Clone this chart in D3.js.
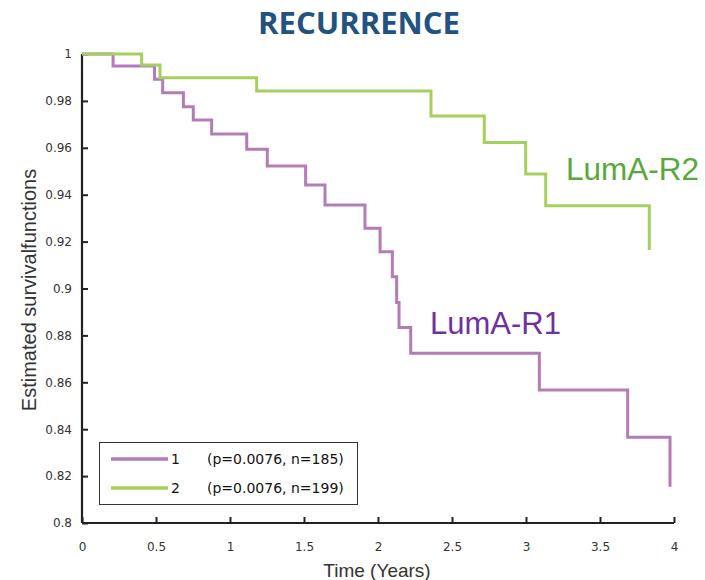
<!DOCTYPE html>
<html>
<head>
<meta charset="utf-8">
<script src="https://cdn.jsdelivr.net/npm/d3@7"></script>
<style>
  body { margin: 0; background: #fff; }
  svg text { font-family: "Liberation Sans", Arial, sans-serif; }
</style>
</head>
<body>
<div id="chart"></div>
<script>
// Kaplan-Meier step points: [time, survival]
const lumA1 = [[0, 1], [0.21, 0.9949], [0.49, 0.9892], [0.545, 0.9835], [0.685, 0.9775],
  [0.752, 0.9719], [0.876, 0.9659], [1.113, 0.9594], [1.252, 0.9522], [1.511, 0.9441],
  [1.642, 0.9356], [1.912, 0.9257], [2.014, 0.9157], [2.097, 0.905], [2.126, 0.894],
  [2.142, 0.8834], [2.221, 0.8724], [3.09, 0.8567], [3.687, 0.8366], [3.973, 0.8155]];
const lumA2 = [[0, 1], [0.403, 0.9953], [0.527, 0.9899], [1.18, 0.9842], [2.358, 0.9736],
  [2.718, 0.9623], [2.998, 0.9488], [3.133, 0.9353], [3.833, 0.9164]];
const xTicks = [0, 0.5, 1, 1.5, 2, 2.5, 3, 3.5, 4];
const yTicks = [0.8, 0.82, 0.84, 0.86, 0.88, 0.9, 0.92, 0.94, 0.96, 0.98, 1];
const legendNames = ["1", "2"];
const legendStats = ["(p=0.0076, n=185)", "(p=0.0076, n=199)"];
const curveLabels = ["LumA-R1", "LumA-R2"];

const width = 705, height = 580;
const margin = {left: 82, right: 31, top: 54, bottom: 57};
const purple = "#b37cb9", green = "#a6d05e";
const tickFont = "'DejaVu Sans', sans-serif";

const svg = d3.select("#chart").append("svg")
  .attr("width", width)
  .attr("height", height);

const x = d3.scaleLinear().domain([0, 4]).range([margin.left, width - margin.right]);
const y = d3.scaleLinear().domain([0.8, 1]).range([height - margin.bottom, margin.top]);

// title
svg.append("text")
  .attr("x", 359).attr("y", 34)
  .attr("text-anchor", "middle")
  .style("font-family", "'Open Sans', sans-serif")
  .attr("font-size", "30px")
  .attr("font-weight", "bold")
  .attr("fill", "#22527f")
  .attr("textLength", 202)
  .attr("lengthAdjust", "spacingAndGlyphs")
  .text("RECURRENCE");

// axes (ticks point inward)
const xAxis = d3.axisBottom(x).tickValues(xTicks).tickSize(-6).tickPadding(19)
  .tickFormat(d3.format("~g"));
const yAxis = d3.axisLeft(y).tickValues(yTicks).tickSize(-6).tickPadding(10)
  .tickFormat(d3.format("~g"));

const gx = svg.append("g")
  .attr("transform", "translate(0," + y(0.8) + ")")
  .call(xAxis);
const gy = svg.append("g")
  .attr("transform", "translate(" + x(0) + ",0)")
  .call(yAxis);

[gx, gy].forEach(g => {
  g.select(".domain").attr("stroke", "#222").attr("stroke-width", 2.2);
  g.selectAll(".tick line").attr("stroke", "#222").attr("stroke-width", 2);
  g.selectAll(".tick text")
    .style("font-family", tickFont)
    .attr("font-size", "12px")
    .attr("fill", "#333");
});
gy.select(".domain").attr("d", "M0," + y(0.8) + "V" + y(1));
gx.select(".domain").attr("d", "M" + x(0) + ",0H" + x(4));

// step curves
const step = d3.line().x(d => x(d[0])).y(d => y(d[1])).curve(d3.curveStepAfter);
[[lumA1, purple], [lumA2, green]].forEach(([data, col]) => {
  svg.append("path")
    .datum(data)
    .attr("d", step)
    .attr("fill", "none")
    .attr("stroke", col)
    .attr("stroke-width", 3);
});

// curve labels
svg.append("text")
  .attr("x", 430).attr("y", 334)
  .attr("font-size", "31px")
  .attr("fill", "#7030a0")
  .text(curveLabels[0]);
svg.append("text")
  .attr("x", 566).attr("y", 180)
  .attr("font-size", "31.5px")
  .attr("fill", "#58a83c")
  .text(curveLabels[1]);

// legend
const lg = svg.append("g");
lg.append("rect")
  .attr("x", 99.5).attr("y", 442.5)
  .attr("width", 258).attr("height", 62)
  .attr("fill", "#fff")
  .attr("stroke", "#333")
  .attr("stroke-width", 1);
[purple, green].forEach((col, i) => {
  const yy = 459 + i * 29;
  lg.append("line")
    .attr("x1", 111).attr("x2", 168)
    .attr("y1", yy).attr("y2", yy)
    .attr("stroke", col).attr("stroke-width", 3.5);
  lg.append("text")
    .attr("x", 171).attr("y", yy + 5)
    .style("font-family", tickFont)
    .attr("font-size", "14px").attr("fill", "#111")
    .text(legendNames[i]);
  lg.append("text")
    .attr("x", 207).attr("y", yy + 5)
    .style("font-family", tickFont)
    .attr("font-size", "14px").attr("fill", "#111")
    .text(legendStats[i]);
});

// axis titles
svg.append("text")
  .attr("x", 377).attr("y", 577)
  .attr("text-anchor", "middle")
  .attr("font-size", "19px")
  .attr("fill", "#333")
  .text("Time (Years)");
svg.append("text")
  .attr("transform", "translate(36,290) rotate(-90)")
  .attr("text-anchor", "middle")
  .attr("font-size", "20px")
  .attr("fill", "#333")
  .text("Estimated survivalfunctions");
</script>
</body>
</html>
